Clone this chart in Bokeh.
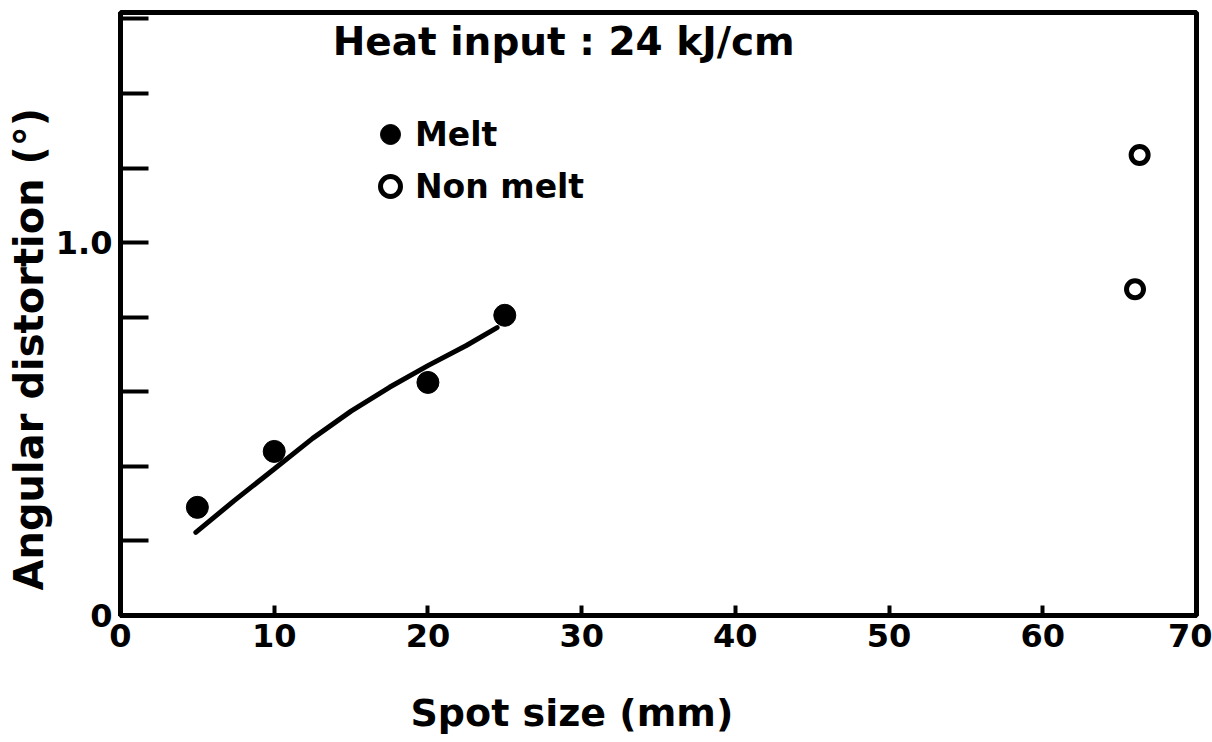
from bokeh.plotting import figure
from bokeh.models import FixedTicker, Label, Legend, LegendItem, LinearAxis, Range1d, Title
from bokeh.embed import file_html
from bokeh.resources import INLINE

# ---- data ----
melt_x = [5, 10, 20, 25]
melt_y = [0.29, 0.44, 0.625, 0.805]
nonmelt_x = [66.0, 66.3]
nonmelt_y = [0.875, 1.235]
curve_x = [4.9, 7.4, 10.0, 12.5, 15.0, 17.5, 20.0, 22.5, 24.5]
curve_y = [0.223, 0.308, 0.393, 0.475, 0.548, 0.612, 0.670, 0.724, 0.772]
x_ticks = [0, 10, 20, 30, 40, 50, 60, 70]
y_labeled = [0, 1]
y_minor = [0.2, 0.4, 0.6, 0.8, 1.2, 1.4, 1.6]
y_label_text = {0: "0", 1: "1.0"}
title_text = "Heat input : 24 kJ/cm"
x_title = "Spot size (mm)"
y_title = "Angular distortion (°)"

FONT = "DejaVu Sans"

p = figure(width=1212, height=742, output_backend="svg", toolbar_location=None,
           x_range=Range1d(0, 70), y_range=Range1d(0, 1.617),
           min_border_left=120, min_border_right=16, min_border_top=12, min_border_bottom=127)
p.background_fill_color = "white"
p.border_fill_color = "white"
p.xgrid.visible = False
p.ygrid.visible = False
p.outline_line_color = "black"
p.outline_line_width = 5

# x axis
xa = p.xaxis[0]
xa.ticker = FixedTicker(ticks=x_ticks)
xa.axis_line_width = 5
xa.major_tick_in = 10
xa.major_tick_out = 0
xa.major_tick_line_width = 4
xa.minor_tick_line_color = None
xa.major_label_text_font = FONT
xa.major_label_text_font_style = "bold"
xa.major_label_text_font_size = "32px"
xa.major_label_text_color = "black"
xa.major_label_standoff = 8

# y axis
ya = p.yaxis[0]
ya.ticker = FixedTicker(ticks=y_labeled, minor_ticks=y_minor)
ya.major_label_overrides = y_label_text
ya.axis_line_width = 5
ya.major_tick_in = 28
ya.major_tick_out = 0
ya.major_tick_line_width = 4
ya.minor_tick_in = 28
ya.minor_tick_out = 0
ya.minor_tick_line_width = 4
ya.minor_tick_line_color = "black"
ya.major_label_text_font = FONT
ya.major_label_text_font_style = "bold"
ya.major_label_text_font_size = "32px"
ya.major_label_text_color = "black"
ya.major_label_standoff = 8

# blank spacer strip below the x axis so that the x title sits low, as in the reference
spacer = LinearAxis(ticker=FixedTicker(ticks=[70]), major_tick_out=39, major_tick_in=0,
                    major_label_overrides={70: ""}, major_label_standoff=0,
                    major_label_text_font_size="1px",
                    axis_line_color="white", major_tick_line_color="white",
                    minor_tick_line_color=None, major_label_text_color="white")
p.add_layout(spacer, "below")

# axis titles, placed off-centre as in the reference
p.add_layout(Title(text=x_title, align="left", offset=290, standoff=0,
                   text_font=FONT, text_font_style="bold", text_font_size="38px",
                   text_color="black"), "below")
p.add_layout(Title(text=y_title, align="left", offset=25, standoff=2,
                   text_font=FONT, text_font_style="bold", text_font_size="40px",
                   text_color="black"), "left")

# curve and points
p.line(curve_x, curve_y, line_color="black", line_width=5, line_cap="round")
r_melt = p.scatter(melt_x, melt_y, size=22, marker="circle",
                   fill_color="black", line_color="black")
r_non = p.scatter(nonmelt_x, nonmelt_y, size=17, marker="circle",
                  fill_color="white", line_color="black", line_width=5)

# heading inside the frame
p.add_layout(Label(x=13.8, y=1.539, text=title_text, text_baseline="middle",
                   text_font=FONT, text_font_style="bold", text_font_size="39px",
                   text_color="black"))

legend = Legend(items=[LegendItem(label="Melt", renderers=[r_melt]),
                       LegendItem(label="Non melt", renderers=[r_non])],
                location=(245, 404), padding=0, margin=0, spacing=2,
                glyph_width=50, glyph_height=50, label_height=50,
                label_standoff=-6,
                label_text_font=FONT, label_text_font_style="bold",
                label_text_font_size="33px", label_text_color="black",
                border_line_color=None, background_fill_alpha=0)
p.add_layout(legend)

open("out.html", "w").write(file_html(p, INLINE))
